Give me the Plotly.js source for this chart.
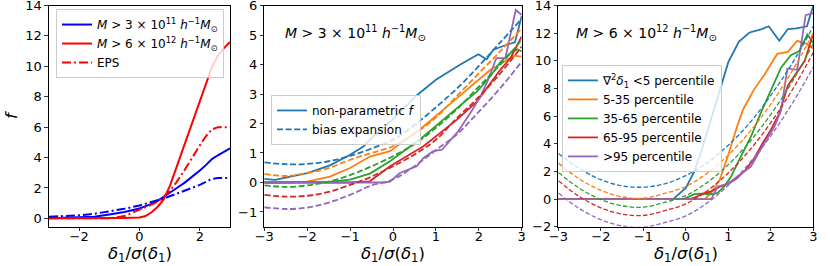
<!DOCTYPE html>
<html>
<head>
<meta charset="utf-8">
<script src="https://cdn.plot.ly/plotly-3.0.1.min.js"></script>
<style>
html,body{margin:0;padding:0;background:#fff;}
#chart{width:830px;height:266px;}
</style>
</head>
<body>
<div id="chart"></div>
<script>
// ---------- Panel 1 (left) ----------
const xL = [-3,-2.5,-2,-1.5,-1,-0.5,0,0.2,0.4,0.6,0.8,1,1.2,1.5,1.8,2,2.2,2.4,2.6,2.8,3];
const fLowMass = [0.0,0.02,0.05,0.1,0.25,0.42,0.65,0.78,0.95,1.15,1.4,1.7,1.95,2.35,2.8,3.15,3.5,3.9,4.15,4.4,4.6];
const epsLowMass = [0.1,0.15,0.2,0.3,0.45,0.63,0.85,0.95,1.07,1.18,1.3,1.45,1.6,1.8,2.0,2.2,2.4,2.6,2.65,2.65,2.65];
const fHighMass = [0,0,0,0,0.02,0.03,0.05,0.15,0.4,0.75,1.25,2.1,3.2,4.9,6.6,7.7,8.8,9.95,10.7,11.2,11.6];
const epsHighMass = [0,0,0,0,0.0,0.15,0.55,0.7,0.9,1.1,1.4,1.8,2.3,3.2,4.2,4.8,5.4,5.85,6.0,6.0,6.0];

// ---------- Panel 2 (middle, M > 3e11) ----------
const xSmooth = [-3,-2.5,-2,-1.5,-1,-0.5,0,0.5,1,1.5,2,2.5,3];
const midDashed = [
  [0.68,0.62,0.63,0.72,0.9,1.15,1.45,1.95,2.55,3.2,3.95,4.75,5.55],
  [0.29,0.22,0.32,0.49,0.77,1.0,1.23,1.65,2.2,2.95,3.7,4.45,5.23],
  [-0.1,-0.15,-0.1,0.03,0.25,0.55,0.89,1.3,1.85,2.5,3.25,4.0,4.84],
  [-0.42,-0.48,-0.45,-0.32,-0.08,0.2,0.55,0.95,1.45,2.2,2.9,3.7,4.61],
  [-0.84,-0.9,-0.85,-0.68,-0.42,-0.1,0.1,0.55,1.1,1.65,2.4,3.2,4.1]
];
const midX = [
  [-3,-2.75,-2,-1.47,-1,-0.69,-0.54,0,0.55,1.0,1.56,1.8,1.99,2.18,2.34,2.65,2.84,3],
  [-3,-2.5,-2,-1.47,-1,-0.54,-0.07,0.71,1.49,1.96,2.27,2.54,2.81,3],
  [-3,-2,-1.5,-1,-0.54,-0.07,0.71,1.49,1.96,2.27,2.51,2.74,2.9,3],
  [-3,-2,-1,-0.54,-0.07,0.71,1.49,1.96,2.27,2.5,2.74,3],
  [-3,-2,-1,-0.2,-0.07,0.16,0.55,0.71,0.94,1.14,1.49,1.8,2.04,2.2,2.41,2.62,2.86,3]
];
const midSolid = [
  [0.12,0.09,0.32,0.58,0.94,1.22,1.45,2.15,2.95,3.48,3.99,4.2,4.35,4.18,4.5,4.67,4.75,5.65],
  [0.0,0.0,0.03,0.2,0.49,0.88,1.06,1.9,2.86,3.43,3.82,4.05,4.3,4.27],
  [0.0,0.0,0.02,0.1,0.3,0.72,1.56,2.52,3.09,3.6,4.1,4.39,4.52,4.44],
  [0.0,0.0,0.0,0.04,0.55,1.23,2.13,2.75,3.37,3.82,4.22,4.95],
  [0.0,0.0,0.0,0.0,0.03,0.32,0.55,0.83,1.06,1.11,1.68,2.35,2.92,3.43,4.22,4.22,5.85,5.68]
];

// ---------- Panel 3 (right, M > 6e12) ----------
const rightDashed = [
  [3.3,2.2,1.4,0.96,0.86,1.1,1.7,2.62,3.9,5.5,7.5,9.8,12.5],
  [2.6,1.44,0.63,0.16,0.06,0.41,0.91,1.87,3.18,4.85,6.87,9.25,12.0],
  [1.93,0.77,-0.03,-0.49,-0.59,-0.24,0.25,1.19,2.49,4.13,6.13,8.47,11.25],
  [1.33,0.17,-0.63,-1.09,-1.19,-0.84,-0.35,0.59,1.89,3.53,5.53,7.87,10.6],
  [0.44,-0.7,-1.49,-1.94,-2.04,-1.7,-1.22,-0.28,1.0,2.61,4.58,6.89,9.55]
];
const rightX = [
  [-3,-0.3,0,0.2,0.4,0.6,0.8,1.0,1.25,1.5,1.75,1.95,2.2,2.4,2.6,2.85,3],
  [-3,0.45,0.6,0.8,1.0,1.2,1.35,1.6,1.85,2.15,2.4,2.62,2.82,3],
  [-3,-0.05,0.2,0.35,0.6,0.75,0.9,1.06,1.25,1.53,1.76,2.0,2.24,2.47,2.67,2.86,3],
  [-3,0.1,0.2,0.4,0.6,0.8,1.0,1.2,1.4,1.6,1.8,2.0,2.2,2.4,2.6,2.8,3],
  [-3,0.6,0.75,0.98,1.2,1.53,1.84,2.08,2.24,2.39,2.62,2.82,3]
];
const rightSolid = [
  [0,0,0.8,2.0,3.8,5.8,7.8,9.9,11.4,12.05,12.25,12.5,11.45,12.3,12.35,12.5,14.0],
  [0,0,0.5,1.4,3.2,5.2,6.5,7.9,9.0,10.5,10.65,11.45,11.25,10.9],
  [0,0,0.35,0.4,0.35,0.45,0.9,1.6,2.8,4.5,6.2,7.9,9.5,10.4,10.7,11.9,11.3],
  [0,0,0.1,0.4,0.55,0.9,1.1,1.5,2.1,2.9,4.0,5.0,6.2,8.2,9.1,10.0,12.0],
  [0,0,0.9,1.1,1.6,2.35,4.0,5.2,6.4,9.45,9.35,13.3,13.45]
];

const pctLabels = ['∇<sup>2</sup><i>δ</i><sub>1</sub> <5 percentile','5-35 percentile','35-65 percentile','65-95 percentile','>95 percentile'];
const colors = ['#1f77b4','#ff7f0e','#2ca02c','#d62728','#9467bd'];
const tickVals = {left:[0,2,4,6,8,10,12,14], mid:[-1,0,1,2,3,4,5,6], right:[-2,0,2,4,6,8,10,12,14]};
const lowLabel = '<i>M</i> > 3 × 10<sup>11</sup> <i>h</i><sup>−1</sup><i>M</i><sub>⊙</sub>';
const highLabel = '<i>M</i> > 6 × 10<sup>12</sup> <i>h</i><sup>−1</sup><i>M</i><sub>⊙</sub>';
const xTitleText = '<i>δ</i><sub>1</sub>/<i>σ</i>(<i>δ</i><sub>1</sub>)';
const yTitleText = '<i>f</i>';

const traces = [];
// left panel
traces.push({x:xL,y:fLowMass,mode:'lines',line:{color:'#0000ff',width:2},name:lowLabel,xaxis:'x',yaxis:'y',legend:'legend'});
traces.push({x:xL,y:fHighMass,mode:'lines',line:{color:'#ff0000',width:2},name:highLabel,xaxis:'x',yaxis:'y',legend:'legend'});
traces.push({x:xL,y:epsHighMass,mode:'lines',line:{color:'#ff0000',width:2,dash:'9px,3px,2px,3px'},name:'EPS',xaxis:'x',yaxis:'y',legend:'legend'});
traces.push({x:xL,y:epsLowMass,mode:'lines',line:{color:'#0000ff',width:2,dash:'9px,3px,2px,3px'},showlegend:false,xaxis:'x',yaxis:'y'});

// middle panel
for(let i=0;i<5;i++){
  traces.push({x:midX[i],y:midSolid[i],mode:'lines',line:{color:colors[i],width:1.8},
    name:'non-parametric <i>f</i>',showlegend:i===0,xaxis:'x2',yaxis:'y2',legend:'legend2'});
}
for(let i=0;i<5;i++){
  traces.push({x:xSmooth,y:midDashed[i],mode:'lines',line:{color:colors[i],width:1.8,dash:'6px,2.6px',shape:'spline'},
    name:'bias expansion',showlegend:i===0,xaxis:'x2',yaxis:'y2',legend:'legend2'});
}
// right panel
for(let i=0;i<5;i++){
  traces.push({x:rightX[i],y:rightSolid[i],mode:'lines',line:{color:colors[i],width:1.8},
    name:pctLabels[i],showlegend:true,xaxis:'x3',yaxis:'y3',legend:'legend3'});
}
for(let i=0;i<5;i++){
  traces.push({x:xSmooth,y:rightDashed[i],mode:'lines',line:{color:colors[i],width:1.3,dash:'4.5px,2.2px',shape:'spline'},
    showlegend:false,xaxis:'x3',yaxis:'y3'});
}

const fontFam = 'DejaVu Sans, sans-serif';
function xax(domain,dtick){
  return {domain:domain,range:[-3.0001,3.0001],dtick:dtick,tick0:0,showgrid:false,zeroline:false,showline:true,mirror:true,
    linecolor:'#000',linewidth:1,ticks:'outside',ticklen:3.5,tickwidth:0.8,tickcolor:'#000',
    tickfont:{size:13,color:'#000'},ticklabelstandoff:-6,ticklabeloverflow:'allow',automargin:false};
}
function yax(anchor,range,vals){
  return {domain:[0.1477,0.9793],anchor:anchor,range:range,tickvals:vals,showgrid:false,zeroline:false,showline:true,mirror:true,
    linecolor:'#000',linewidth:1,ticks:'outside',ticklen:3.5,tickwidth:0.8,tickcolor:'#000',
    tickfont:{size:13,color:'#000'},ticklabeloverflow:'allow',automargin:false};
}
const legendBase = {bgcolor:'rgba(255,255,255,0.8)',bordercolor:'#cccccc',borderwidth:1,
  font:{size:12,color:'#000'},xanchor:'left',yanchor:'top',tracegroupgap:0,itemwidth:30};

const ann = (x,y,text,size,extra)=>Object.assign({xref:'paper',yref:'paper',x:x/830,y:1-y/266,
  text:text,showarrow:false,font:{size:size,color:'#000'}},extra||{});

const layout = {
  width:830,height:266,margin:{l:0,r:0,t:0,b:0},
  paper_bgcolor:'#fff',plot_bgcolor:'#fff',
  font:{family:fontFam,color:'#000'},
  xaxis:xax([0.0590,0.2771],2),
  xaxis2:xax([0.3184,0.6286],1),
  xaxis3:xax([0.6727,0.9799],1),
  yaxis:yax('x',[-0.55,14.002],tickVals.left),
  yaxis2:yax('x2',[-1.5,6.001],tickVals.mid),
  yaxis3:yax('x3',[-2,14.002],tickVals.right),
  legend:Object.assign({},legendBase,{x:0.0675,y:0.966}),
  legend2:Object.assign({},legendBase,{x:0.3265,y:0.643}),
  legend3:Object.assign({},legendBase,{x:0.677,y:0.756}),
  showlegend:true,
  annotations:[
    ann(283,33,lowLabel,14,{xanchor:'left',yanchor:'middle'}),
    ann(574,33,highLabel,14,{xanchor:'left',yanchor:'middle'}),
    ann(139.5,254,xTitleText,16.5,{xanchor:'center',yanchor:'middle'}),
    ann(393,254,xTitleText,16.5,{xanchor:'center',yanchor:'middle'}),
    ann(686,254,xTitleText,16.5,{xanchor:'center',yanchor:'middle'}),
    ann(12,115,yTitleText,16.5,{xanchor:'center',yanchor:'middle',textangle:-90})
  ]
};
Plotly.newPlot('chart',traces,layout,{staticPlot:true,displayModeBar:false});
</script>
</body>
</html>
